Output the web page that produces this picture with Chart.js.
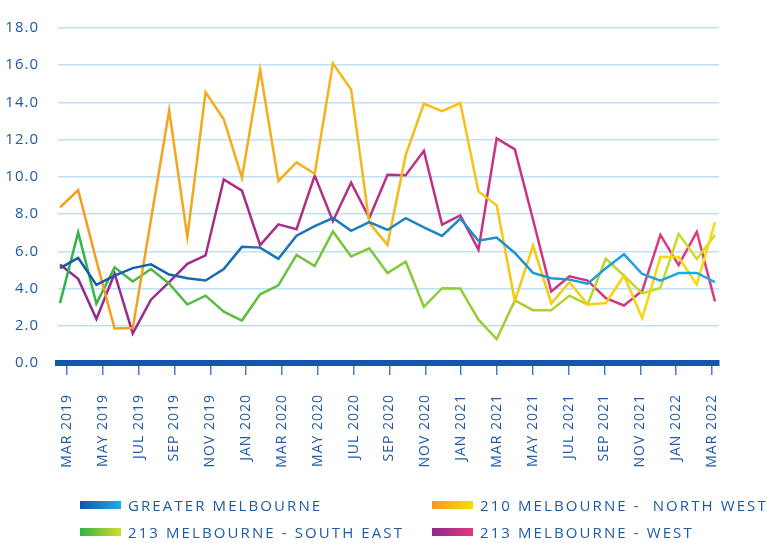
<!DOCTYPE html>
<html>
<head>
<meta charset="utf-8">
<script src="https://cdn.jsdelivr.net/npm/chart.js@4.4.0/dist/chart.umd.min.js"></script>
<style>
  body { margin: 0; background: #fff; }
  #wrap { position: relative; width: 767px; height: 543px; }
  #myChart { position: absolute; left: 0; top: 0; }
  .item { position: absolute; display: flex; align-items: center; height: 16px;
          font: 500 15px "Open Sans", sans-serif; letter-spacing: 2.1px; color: #1f5aa6; white-space: pre; }
  .swatch { width: 41px; height: 8px; margin-right: 7px; }
</style>
</head>
<body>
<div id="wrap">
  <canvas id="myChart" width="767" height="543"></canvas>
  <div class="item" style="left:80px; top:497px;"><span class="swatch" style="background:linear-gradient(90deg,#1656a3,#1eaee6)"></span>GREATER MELBOURNE</div>
  <div class="item" style="left:432px; top:497px;"><span class="swatch" style="background:linear-gradient(90deg,#f39a20,#f6dc0c)"></span>210 MELBOURNE -  NORTH WEST</div>
  <div class="item" style="left:80px; top:524px;"><span class="swatch" style="background:linear-gradient(90deg,#2fb34a,#d4de26)"></span>213 MELBOURNE - SOUTH EAST</div>
  <div class="item" style="left:432px; top:524px;"><span class="swatch" style="background:linear-gradient(90deg,#8e2a8c,#e2387e)"></span>213 MELBOURNE - WEST</div>
</div>
<script>
// monthly values, Mar 2019 - Mar 2022
var months = ['MAR 2019', 'APR 2019', 'MAY 2019', 'JUN 2019', 'JUL 2019', 'AUG 2019', 'SEP 2019', 'OCT 2019', 'NOV 2019', 'DEC 2019',
  'JAN 2020', 'FEB 2020', 'MAR 2020', 'APR 2020', 'MAY 2020', 'JUN 2020', 'JUL 2020', 'AUG 2020', 'SEP 2020', 'OCT 2020', 'NOV 2020', 'DEC 2020',
  'JAN 2021', 'FEB 2021', 'MAR 2021', 'APR 2021', 'MAY 2021', 'JUN 2021', 'JUL 2021', 'AUG 2021', 'SEP 2021', 'OCT 2021', 'NOV 2021', 'DEC 2021',
  'JAN 2022', 'FEB 2022', 'MAR 2022'];

var greaterMelbourne = [5.1, 5.65, 4.2, 4.7, 5.1, 5.3, 4.75, 4.55, 4.43, 5.05, 6.24, 6.2, 5.6, 6.84, 7.36, 7.79, 7.1, 7.57, 7.15,
  7.78, 7.29, 6.83, 7.76, 6.57, 6.74, 5.91, 4.84, 4.55, 4.48, 4.26, 5.09, 5.84, 4.78, 4.43, 4.83, 4.84, 4.34];

var northWest = [8.36, 9.29, 5.5, 1.85, 1.88, 7.7, 13.57, 6.76, 14.55, 13.1, 9.95, 15.76, 9.78, 10.78, 10.17, 16.1, 14.7, 7.53, 6.35,
  11.17, 13.93, 13.53, 13.97, 9.22, 8.47, 3.33, 6.31, 3.2, 4.34, 3.14, 3.22, 4.69, 2.41, 5.69, 5.69, 4.21, 7.57];

var southEast = [3.22, 7.02, 3.19, 5.14, 4.38, 5.05, 4.26, 3.14, 3.62, 2.76, 2.28, 3.69, 4.17, 5.81, 5.21, 7.07, 5.72, 6.16, 4.83,
  5.45, 3.02, 4.02, 4.0, 2.33, 1.29, 3.36, 2.84, 2.84, 3.62, 3.14, 5.6, 4.69, 3.74, 4.03, 6.93, 5.59, 6.88];

var west = [5.29, 4.52, 2.36, 4.81, 1.59, 3.4, 4.34, 5.33, 5.78, 9.86, 9.26, 6.33, 7.45, 7.19, 10.07, 7.62, 9.69, 7.79, 10.12,
  10.09, 11.4, 7.43, 7.93, 6.09, 12.07, 11.48, 7.7, 3.84, 4.66, 4.43, 3.48, 3.09, 3.88, 6.88, 5.26, 7.05, 3.31];

var tickLabels = months.filter(function(m, i) { return i % 2 == 0; });

var textColor = '#1f5aa6';

function points(values) {
  return values.map(function(v, i) { return {x: i, y: v}; });
}

// horizontal gradient across the plot area
function grad(c1, c2) {
  return function(context) {
    var area = context.chart.chartArea;
    if (!area) return c1;
    var g = context.chart.ctx.createLinearGradient(area.left, 0, area.right, 0);
    g.addColorStop(0, c1);
    g.addColorStop(1, c2);
    return g;
  };
}

var spacing = {
  id: 'spacing',
  beforeUpdate: function(chart) { chart.ctx.letterSpacing = '1px'; },
  beforeDraw: function(chart) { chart.ctx.letterSpacing = '1px'; }
};

const ctx = document.getElementById('myChart');

var graphData = {
  type: 'line',
  data: {
    datasets: [
      { label: 'GREATER MELBOURNE', data: points(greaterMelbourne), borderColor: grad('#1656a3', '#1eaee6') },
      { label: '210 MELBOURNE -  NORTH WEST', data: points(northWest), borderColor: grad('#f39a20', '#f6dc0c') },
      { label: '213 MELBOURNE - SOUTH EAST', data: points(southEast), borderColor: grad('#2fb34a', '#d4de26') },
      { label: '213 MELBOURNE - WEST', data: points(west), borderColor: grad('#8e2a8c', '#e2387e') },
    ]
  },
  options: {
    responsive: false,
    animation: false,
    layout: { padding: { left: 0, right: 48, top: 16, bottom: 0 } },
    elements: {
      line: { borderWidth: 2.5, tension: 0, borderJoinStyle: 'miter' },
      point: { radius: 0 }
    },
    plugins: { legend: { display: false }, tooltip: { enabled: false } },
    scales: {
      x: {
        type: 'linear',
        bounds: 'data',
        min: -0.11,
        max: 36.22,
        afterBuildTicks: function(scale) {
          scale.ticks = tickLabels.map(function(t, k) { return {value: 0.385 + k * 1.9694}; });
        },
        afterFit: function(scale) { scale.height = 543 - 363; },
        border: { display: true, color: '#1656a3', width: 6 },
        grid: { drawOnChartArea: false, drawTicks: true, tickLength: 12, color: '#4a80c4', lineWidth: 1.5 },
        ticks: {
          autoSkip: false,
          maxRotation: 90,
          minRotation: 90,
          padding: 19,
          color: textColor,
          font: { family: '"Open Sans", sans-serif', size: 14, weight: '500' },
          callback: function(value, index) { return tickLabels[index]; }
        }
      },
      y: {
        min: 0,
        max: 18,
        afterFit: function(scale) { scale.width = 58; },
        border: { display: false },
        grid: { drawTicks: false, color: '#bfe0f5', lineWidth: 1.5 },
        ticks: {
          stepSize: 2,
          padding: 19,
          color: textColor,
          font: { family: '"Open Sans", sans-serif', size: 15, weight: '500' },
          callback: function(v) { return v.toFixed(1); }
        }
      }
    }
  },
  plugins: [spacing]
};

var myChart = new Chart(ctx, graphData);
</script>
</body>
</html>
